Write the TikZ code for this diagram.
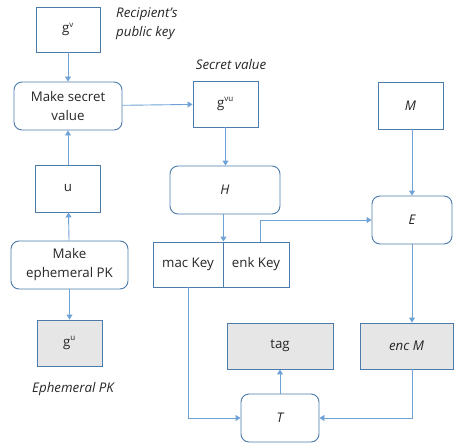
\documentclass[tikz,border=0pt]{standalone}
\usepackage{fontspec}
\setmainfont{Open Sans}
\usetikzlibrary{arrows.meta}
\definecolor{boxline}{HTML}{4A7BAA}
\definecolor{flow}{HTML}{6FA3D8}
\definecolor{outfill}{HTML}{E7E6E6}
\definecolor{ink}{HTML}{262626}
\tikzset{
  sqbox/.style={draw=boxline, line width=0.9pt, fill=white, inner sep=2pt,
    align=center, text=ink, font=\fontsize{13.3}{19}\selectfont},
  rbox/.style={sqbox, rounded corners=8pt},
  outbox/.style={sqbox, fill=outfill},
  note/.style={font=\fontsize{13.3}{19}\selectfont\itshape, text=ink, inner sep=0pt},
  flowline/.style={draw=flow, line width=0.9pt, -{Triangle[width=6pt,length=5pt]}}
}
\newcommand{\supx}[1]{\textsuperscript{\fontsize{8}{8}\selectfont #1}}
\begin{document}
\begin{tikzpicture}[x=1pt,y=-1pt]
\useasboundingbox (0,0) rectangle (455,444);

% left column: key agreement
\node[sqbox, minimum width=64pt, minimum height=45pt] (gv) at (68,29.5) {g\supx{v}};
\node[rbox, minimum width=108pt, minimum height=48pt] (mksec) at (68,106) {Make secret\\value};
\node[sqbox, minimum width=65pt, minimum height=47pt] (u) at (68,188.5) {u};
\node[rbox, minimum width=117pt, minimum height=48pt] (mkeph) at (69.5,265) {Make\\ephemeral PK};
\node[outbox, minimum width=65pt, minimum height=46pt] (gu) at (69.5,343) {g\supx{u}};

% middle column: key derivation
\node[sqbox, minimum width=65pt, minimum height=46pt] (gvu) at (225.5,104) {g\supx{vu}};
\node[rbox, minimum width=110pt, minimum height=48pt] (H) at (225,190) {\itshape H};
\node[sqbox, minimum width=70pt, minimum height=45pt] (mac) at (188,264.5) {mac Key};
\node[sqbox, minimum width=66pt, minimum height=45pt] (enk) at (256,264.5) {enk Key};

% right column: encryption and tag
\node[sqbox, minimum width=65pt, minimum height=47pt] (M) at (410.5,105.5) {\itshape M};
\node[rbox, minimum width=80pt, minimum height=48pt] (E) at (412,220) {\itshape E};
\node[outbox, minimum width=106pt, minimum height=46pt] (tag) at (280,346) {tag};
\node[outbox, minimum width=93pt, minimum height=46pt] (encM) at (406.5,346) {\itshape enc M};
\node[rbox, minimum width=78pt, minimum height=48pt] (T) at (280,418) {\itshape T};

% labels
\node[note, align=left, anchor=north west] (lblpk) at (116,8) {Recipient’s\\public key};
\node[note] (lblsv) at (231,65) {Secret value};
\node[note] (lbleph) at (73,389) {Ephemeral PK};

% connectors
\draw[flowline] (gv) -- (mksec);
\draw[flowline] (u) -- (mksec);
\draw[flowline] (mkeph) -- (u);
\draw[flowline] (mkeph.south -| gu) -- (gu);
\draw[flowline] (mksec) -- (gvu);
\draw[flowline] (gvu) -- (gvu |- H.north);
\draw[flowline] (H.south -| mac.east) -- (mac.north east);
\draw[flowline] (enk.north) ++(4pt,0) coordinate (enktop) |- (E.west);
\draw[flowline] (M.south -| E) -- (E);
\draw[flowline] (E) -- (E |- encM.north);
\draw[flowline] (mac.south) |- (T.west);
\draw[flowline] (encM.south -| E) |- (T.east);
\draw[flowline] (T) -- (tag);
\end{tikzpicture}
\end{document}
